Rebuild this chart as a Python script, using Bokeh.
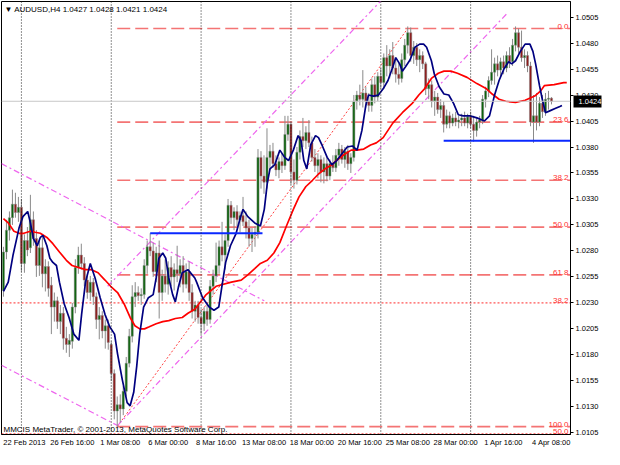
from bokeh.plotting import figure
from bokeh.models import (Range1d, FixedTicker, Label, Span, PrintfTickFormatter,
                          ColumnDataSource, LinearAxis)
from bokeh.embed import file_html
from bokeh.resources import INLINE
from bokeh.core.properties import value

# ---------------- data ----------------
title_text = "\u25bc AUDUSD,H4  1.0427  1.0428  1.0421  1.0424"
copyright_text = "MMCIS MetaTrader, \u00a9 2001-2013, MetaQuotes Software Corp."
last_price = 1.0424

opens = [
    1.0242, 1.0279, 1.0300, 1.0312, 1.0325, 1.0317, 1.0322, 1.0268, 1.0290, 1.0283,
    1.0310, 1.0292, 1.0266, 1.0283, 1.0258, 1.0265, 1.0247, 1.0226, 1.0232, 1.0212,
    1.0220, 1.0196, 1.0190, 1.0193, 1.0226, 1.0264, 1.0276, 1.0268, 1.0252, 1.0240,
    1.0250, 1.0236, 1.0214, 1.0218, 1.0203, 1.0208, 1.0190, 1.0162, 1.0126, 1.0132,
    1.0128, 1.0145, 1.0172, 1.0198, 1.0236, 1.0240, 1.0237, 1.0238, 1.0266, 1.0284,
    1.0280, 1.0260, 1.0278, 1.0240, 1.0256, 1.0248, 1.0264, 1.0255, 1.0262, 1.0258,
    1.0266, 1.0248, 1.0260, 1.0240, 1.0222, 1.0228, 1.0216, 1.0210, 1.0222, 1.0214,
    1.0246, 1.0256, 1.0266, 1.0284, 1.0276, 1.0290, 1.0324, 1.0312, 1.0318, 1.0310,
    1.0314, 1.0308, 1.0302, 1.0292, 1.0296, 1.0298, 1.0370, 1.0352, 1.0346, 1.0370,
    1.0376, 1.0364, 1.0358, 1.0366, 1.0362, 1.0392, 1.0402, 1.0356, 1.0348, 1.0375,
    1.0390, 1.0386, 1.0394, 1.0384, 1.0370, 1.0362, 1.0368, 1.0356, 1.0364, 1.0352,
    1.0364, 1.0360, 1.0372, 1.0378, 1.0368, 1.0376, 1.0364, 1.0370, 1.0424, 1.0430,
    1.0426, 1.0432, 1.0424, 1.0420, 1.0440, 1.0428, 1.0448, 1.0442, 1.0466, 1.0458,
    1.0468, 1.0456, 1.0450, 1.0446, 1.0464, 1.0478, 1.0490, 1.0468, 1.0476, 1.0464,
    1.0468, 1.0460, 1.0436, 1.0440, 1.0424, 1.0428, 1.0416, 1.0420, 1.0402, 1.0410,
    1.0403, 1.0408, 1.0404, 1.0406, 1.0408, 1.0403, 1.0409, 1.0402, 1.0396, 1.0404,
    1.0406, 1.0426, 1.0434, 1.0444, 1.0452, 1.0460, 1.0454, 1.0462, 1.0456, 1.0468,
    1.0462, 1.0478, 1.0490, 1.0476, 1.0466, 1.0468, 1.0458, 1.0404, 1.0410, 1.0404,
    1.0422, 1.0414, 1.0426, 1.0427]

highs = [
    1.0284, 1.0310, 1.0318, 1.0339, 1.0336, 1.0332, 1.0330, 1.0296, 1.0303, 1.0334,
    1.0318, 1.0300, 1.0290, 1.0296, 1.0272, 1.0270, 1.0255, 1.0240, 1.0236, 1.0228,
    1.0226, 1.0207, 1.0200, 1.0230, 1.0272, 1.0284, 1.0287, 1.0274, 1.0258, 1.0256,
    1.0254, 1.0240, 1.0226, 1.0222, 1.0214, 1.0214, 1.0193, 1.0166, 1.0140, 1.0142,
    1.0150, 1.0178, 1.0205, 1.0247, 1.0250, 1.0246, 1.0244, 1.0272, 1.0290, 1.0297,
    1.0288, 1.0284, 1.0290, 1.0262, 1.0272, 1.0270, 1.0275, 1.0268, 1.0285, 1.0272,
    1.0275, 1.0268, 1.0270, 1.0248, 1.0232, 1.0232, 1.0224, 1.0226, 1.0230, 1.0252,
    1.0262, 1.0288, 1.0290, 1.0308, 1.0296, 1.0330, 1.0328, 1.0322, 1.0324, 1.0318,
    1.0332, 1.0318, 1.0310, 1.0302, 1.0304, 1.0378, 1.0376, 1.0372, 1.0398, 1.0382,
    1.0384, 1.0372, 1.0370, 1.0374, 1.0410, 1.0410, 1.0404, 1.0368, 1.0380, 1.0396,
    1.0408, 1.0400, 1.0406, 1.0390, 1.0378, 1.0374, 1.0372, 1.0370, 1.0370, 1.0368,
    1.0372, 1.0378, 1.0384, 1.0382, 1.0380, 1.0382, 1.0374, 1.0430, 1.0434, 1.0440,
    1.0454, 1.0438, 1.0432, 1.0446, 1.0448, 1.0452, 1.0456, 1.0470, 1.0478, 1.0474,
    1.0481, 1.0466, 1.0462, 1.0470, 1.0484, 1.0496, 1.0495, 1.0482, 1.0480, 1.0474,
    1.0472, 1.0462, 1.0446, 1.0444, 1.0434, 1.0432, 1.0426, 1.0424, 1.0416, 1.0414,
    1.0412, 1.0414, 1.0410, 1.0412, 1.0414, 1.0412, 1.0414, 1.0410, 1.0408, 1.0410,
    1.0430, 1.0438, 1.0448, 1.0474, 1.0466, 1.0468, 1.0466, 1.0468, 1.0472, 1.0476,
    1.0484, 1.0496, 1.0494, 1.0492, 1.0474, 1.0472, 1.0462, 1.0430, 1.0432, 1.0428,
    1.0430, 1.0432, 1.0434, 1.0428]

lows = [
    1.0236, 1.0272, 1.0290, 1.0305, 1.0312, 1.0308, 1.0260, 1.0259, 1.0275, 1.0278,
    1.0285, 1.0255, 1.0256, 1.0245, 1.0241, 1.0236, 1.0200, 1.0212, 1.0205, 1.0200,
    1.0185, 1.0182, 1.0178, 1.0186, 1.0220, 1.0258, 1.0262, 1.0246, 1.0234, 1.0232,
    1.0228, 1.0205, 1.0195, 1.0196, 1.0186, 1.0185, 1.0155, 1.0118, 1.0110, 1.0115,
    1.0122, 1.0140, 1.0168, 1.0192, 1.0226, 1.0232, 1.0228, 1.0234, 1.0258, 1.0275,
    1.0255, 1.0250, 1.0215, 1.0232, 1.0240, 1.0238, 1.0246, 1.0242, 1.0250, 1.0245,
    1.0240, 1.0244, 1.0232, 1.0215, 1.0212, 1.0210, 1.0200, 1.0203, 1.0208, 1.0210,
    1.0238, 1.0250, 1.0258, 1.0270, 1.0262, 1.0284, 1.0306, 1.0300, 1.0304, 1.0298,
    1.0304, 1.0292, 1.0284, 1.0279, 1.0284, 1.0292, 1.0340, 1.0335, 1.0340, 1.0358,
    1.0360, 1.0352, 1.0350, 1.0355, 1.0358, 1.0386, 1.0344, 1.0340, 1.0344, 1.0368,
    1.0380, 1.0378, 1.0380, 1.0366, 1.0356, 1.0350, 1.0346, 1.0345, 1.0347, 1.0348,
    1.0356, 1.0356, 1.0362, 1.0364, 1.0360, 1.0358, 1.0355, 1.0366, 1.0416, 1.0420,
    1.0418, 1.0418, 1.0414, 1.0414, 1.0422, 1.0424, 1.0436, 1.0436, 1.0448, 1.0446,
    1.0450, 1.0442, 1.0440, 1.0442, 1.0458, 1.0470, 1.0462, 1.0460, 1.0458, 1.0452,
    1.0455, 1.0430, 1.0426, 1.0418, 1.0410, 1.0412, 1.0408, 1.0394, 1.0398, 1.0398,
    1.0400, 1.0400, 1.0398, 1.0400, 1.0400, 1.0398, 1.0398, 1.0385, 1.0390, 1.0398,
    1.0402, 1.0418, 1.0428, 1.0440, 1.0440, 1.0448, 1.0448, 1.0450, 1.0452, 1.0456,
    1.0458, 1.0472, 1.0470, 1.0462, 1.0456, 1.0452, 1.0400, 1.0384, 1.0396, 1.0400,
    1.0408, 1.0410, 1.0416, 1.0421]

closes = [
    1.0279, 1.0300, 1.0312, 1.0325, 1.0317, 1.0322, 1.0268, 1.0290, 1.0281, 1.0310,
    1.0292, 1.0266, 1.0283, 1.0258, 1.0265, 1.0244, 1.0226, 1.0232, 1.0212, 1.0220,
    1.0196, 1.0190, 1.0194, 1.0226, 1.0264, 1.0276, 1.0268, 1.0252, 1.0240, 1.0250,
    1.0236, 1.0214, 1.0218, 1.0203, 1.0208, 1.0192, 1.0162, 1.0126, 1.0132, 1.0128,
    1.0145, 1.0172, 1.0198, 1.0236, 1.0240, 1.0237, 1.0238, 1.0266, 1.0284, 1.0280,
    1.0260, 1.0278, 1.0240, 1.0256, 1.0248, 1.0264, 1.0255, 1.0262, 1.0258, 1.0266,
    1.0248, 1.0260, 1.0240, 1.0222, 1.0228, 1.0216, 1.0210, 1.0222, 1.0214, 1.0246,
    1.0256, 1.0266, 1.0284, 1.0276, 1.0290, 1.0324, 1.0312, 1.0318, 1.0310, 1.0314,
    1.0308, 1.0302, 1.0292, 1.0296, 1.0298, 1.0370, 1.0352, 1.0346, 1.0370, 1.0376,
    1.0364, 1.0358, 1.0366, 1.0362, 1.0392, 1.0402, 1.0356, 1.0348, 1.0375, 1.0390,
    1.0386, 1.0394, 1.0384, 1.0370, 1.0362, 1.0368, 1.0356, 1.0364, 1.0352, 1.0364,
    1.0360, 1.0372, 1.0378, 1.0368, 1.0376, 1.0364, 1.0370, 1.0424, 1.0430, 1.0426,
    1.0432, 1.0424, 1.0420, 1.0440, 1.0428, 1.0448, 1.0442, 1.0466, 1.0458, 1.0468,
    1.0456, 1.0450, 1.0446, 1.0464, 1.0478, 1.0490, 1.0468, 1.0476, 1.0464, 1.0468,
    1.0460, 1.0436, 1.0440, 1.0424, 1.0428, 1.0416, 1.0420, 1.0402, 1.0410, 1.0403,
    1.0408, 1.0404, 1.0406, 1.0408, 1.0403, 1.0409, 1.0402, 1.0396, 1.0404, 1.0406,
    1.0426, 1.0434, 1.0444, 1.0452, 1.0460, 1.0454, 1.0462, 1.0456, 1.0468, 1.0462,
    1.0478, 1.0490, 1.0476, 1.0466, 1.0468, 1.0458, 1.0404, 1.0410, 1.0404, 1.0422,
    1.0414, 1.0426, 1.0427, 1.0424]

# fast moving average (navy): bar position, price
fast_ma_pos = [0, 1.6, 3.2, 5.2, 6.5, 8.1, 9, 10, 11.3, 12.3, 13.2, 14.5, 15.5, 16.5, 17.7,
               18.7, 20.3, 21.9, 23.5, 25.2, 26.1, 27.4, 29, 30.6, 32.3, 33.9, 35.5, 37.1,
               38.1, 39.7, 41.3, 42.3, 43.5, 44.5, 45.5, 46.8, 48.4, 50, 51, 51.9, 53.2,
               54.2, 55.2, 56.5, 57.4, 58.4, 59.7, 61.6, 63.9, 64.5, 66.5, 68.7, 70.3,
               71.9, 72.9, 74.2, 75.8, 77.7, 79, 80, 81.6, 83.9, 85.8, 87.1, 88.1, 89,
               90.6, 92.3, 93.9, 95.2, 96.8, 98.4, 99.4, 100.3, 101.3, 102.6, 104.2,
               105.2, 106.5, 108.1, 109.7, 111.3, 112.9, 114.8, 116.5, 118.1, 119.7,
               121, 121.9, 123.5, 125.2, 126.8, 128.4, 130, 131, 132.3, 133.2, 134.2,
               135.8, 137.4, 139, 140.3, 141.3, 142.9, 143.9, 145.5, 147.1, 148.7,
               150.3, 151.9, 153.5, 155.8, 158.1, 160.6, 162.3, 163.9, 165.5, 167.1,
               168.7, 169.7, 171, 172.6, 174.2, 175.8, 176.8, 177.7, 179, 180, 181,
               182.6, 184.2, 185.8, 186.5]
fast_ma_val = [1.0241, 1.0250, 1.0276, 1.0302, 1.0313, 1.0318, 1.0307, 1.0292, 1.0285,
               1.0293, 1.0295, 1.0285, 1.0273, 1.0269, 1.0266, 1.0250, 1.0229, 1.0216,
               1.0200, 1.0194, 1.0219, 1.0250, 1.0268, 1.0254, 1.0235, 1.0219, 1.0207,
               1.0200, 1.0181, 1.0156, 1.0134, 1.0131, 1.0144, 1.0169, 1.0200, 1.0226,
               1.0235, 1.0238, 1.0254, 1.0273, 1.0278, 1.0273, 1.0254, 1.0238, 1.0231,
               1.0245, 1.0259, 1.0262, 1.0254, 1.0250, 1.0235, 1.0226, 1.0223, 1.0226,
               1.0245, 1.0269, 1.0285, 1.0297, 1.0311, 1.0320, 1.0313, 1.0307, 1.0304,
               1.0320, 1.0345, 1.0359, 1.0363, 1.0377, 1.0370, 1.0367, 1.0377, 1.0391,
               1.0386, 1.0367, 1.0359, 1.0382, 1.0391, 1.0389, 1.0381, 1.0370, 1.0363,
               1.0367, 1.0373, 1.0380, 1.0381, 1.0377, 1.0396, 1.0420, 1.0430, 1.0429,
               1.0430, 1.0436, 1.0444, 1.0457, 1.0466, 1.0460, 1.0453, 1.0457, 1.0464,
               1.0476, 1.0479, 1.0479, 1.0476, 1.0463, 1.0450, 1.0438, 1.0431, 1.0430,
               1.0422, 1.0411, 1.0410, 1.0410, 1.0408, 1.0405, 1.0410, 1.0429, 1.0444,
               1.0455, 1.0462, 1.0460, 1.0463, 1.0472, 1.0479, 1.0479, 1.0472, 1.0460,
               1.0439, 1.0425, 1.0413, 1.0415, 1.0417, 1.0419, 1.0420]

# slow moving average (red)
slow_ma_pos = [0, 1.6, 3.5, 5.2, 6.8, 9, 10.6, 12.3, 14.5, 16.5, 18.7, 21, 22.9, 25.2,
               27.4, 29.4, 31.6, 33.9, 35.8, 38.1, 40.3, 42.3, 43.9, 45.5, 47.1, 48.7,
               51, 53.2, 55.2, 57.4, 59.7, 61.6, 63.9, 67.7, 71, 76.1, 79.4, 81.6, 83.9,
               85.8, 88.1, 90.3, 92.3, 94.5, 96.8, 98.7, 101, 103.2, 105.2, 107.4, 109.7,
               111.6, 113.9, 116.1, 118.1, 120.3, 122.6, 124.5, 126.8, 130, 133.2, 136.5,
               138.7, 140.6, 142.9, 145.2, 147.1, 149.4, 151.6, 154.8, 158.1, 161.3,
               163.2, 165.5, 167.7, 171, 174.2, 177.4, 179.4, 180.6, 183.9, 187.1, 188.1]
slow_ma_val = [1.0311, 1.0307, 1.0299, 1.0297, 1.0297, 1.0299, 1.0298, 1.0297, 1.0293,
               1.0287, 1.0279, 1.0271, 1.0266, 1.0264, 1.0262, 1.0262, 1.0259, 1.0252,
               1.0246, 1.0240, 1.0229, 1.0216, 1.0208, 1.0205, 1.0205, 1.0207, 1.0210,
               1.0212, 1.0213, 1.0215, 1.0216, 1.0220, 1.0224, 1.0238, 1.0246, 1.0250,
               1.0252, 1.0257, 1.0263, 1.0268, 1.0271, 1.0278, 1.0288, 1.0304, 1.0320,
               1.0332, 1.0342, 1.0348, 1.0354, 1.0359, 1.0363, 1.0368, 1.0373, 1.0377,
               1.0377, 1.0378, 1.0382, 1.0384, 1.0389, 1.0403, 1.0413, 1.0422, 1.0430,
               1.0436, 1.0446, 1.0451, 1.0453, 1.0453, 1.0451, 1.0447, 1.0441, 1.0436,
               1.0431, 1.0426, 1.0424, 1.0423, 1.0425, 1.0429, 1.0434, 1.0439, 1.0440,
               1.0442, 1.0442]

# time axis
time_ticks = [0, 16, 32, 48, 64, 80, 96, 112, 128, 144, 160, 176]
time_labels = ["22 Feb 2013", "26 Feb 16:00", "1 Mar 08:00", "6 Mar 00:00", "8 Mar 16:00",
               "13 Mar 08:00", "18 Mar 00:00", "20 Mar 16:00", "25 Mar 08:00",
               "28 Mar 00:00", "1 Apr 16:00", "4 Apr 08:00"]
week_starts = [6, 36, 66, 96, 126, 156]

price_ticks = [1.0105, 1.0130, 1.0155, 1.0180, 1.0205, 1.0230, 1.0255, 1.0280, 1.0305,
               1.0330, 1.0355, 1.0380, 1.0405, 1.0430, 1.0455, 1.0480, 1.0505]

# Fibonacci retracement (from the 4 Mar low to the 25 Mar high)
fib_levels = ["0.0", "23.6", "38.2", "50.0", "61.8", "100.0"]
fib_prices = [1.0494, 1.0404, 1.0348, 1.0303, 1.0257, 1.0111]
fib_start_bar = 38
fib_end_bar = 135
# second (older) Fibonacci, only two levels visible
fib2_levels = ["38.2", "50.0"]
fib2_prices = [1.0230, 1.0104]

# channel lines (dash-dot violet): start bar, start price, end bar, end price
chan_x0 = [-0.65, -0.65, 34.8, 38.1]
chan_y0 = [1.0364, 1.0170, 1.0246, 1.0112]
chan_x1 = [87.1, 38.1, 126.5, 168.0]
chan_y1 = [1.0232, 1.0112, 1.0522, 1.0508]

# horizontal support/resistance lines (blue)
hline_x0 = [49, 147]
hline_x1 = [86.5, 195]
hline_y = [1.0297, 1.0386]

# ---------------- figure ----------------
X_LEFT, X_RIGHT = -0.65, 189.35
Y_BOTTOM, Y_TOP = 1.01034, 1.0520
FONT = "Liberation Sans"

p = figure(width=604, height=449, output_backend="svg", toolbar_location=None,
           x_range=Range1d(X_LEFT, X_RIGHT), y_range=Range1d(Y_BOTTOM, Y_TOP),
           y_axis_location="right", min_border_left=1, min_border_top=1,
           min_border_right=31, min_border_bottom=14,
           background_fill_color="white", border_fill_color="white")
p.xgrid.visible = False
p.ygrid.visible = False
p.outline_line_color = "black"
p.outline_line_width = 1

LABEL_SHIFT = 7
p.xaxis.ticker = FixedTicker(ticks=[t + LABEL_SHIFT for t in time_ticks])
p.xaxis.major_label_overrides = {t + LABEL_SHIFT: lab for t, lab in zip(time_ticks, time_labels)}
p.yaxis.ticker = FixedTicker(ticks=price_ticks)
p.yaxis.formatter = PrintfTickFormatter(format="%.4f")
for ax in (p.xaxis[0], p.yaxis[0]):
    ax.axis_line_color = "black"
    ax.major_tick_line_color = "black"
    ax.minor_tick_line_color = None
    ax.major_tick_in = 0
    ax.major_label_text_font = FONT
    ax.major_label_text_font_size = "7.5px"
    ax.major_label_text_color = "black"
p.yaxis.major_tick_out = 3
p.yaxis.major_label_standoff = 2
p.xaxis.major_tick_out = 0
p.xaxis.major_label_standoff = 3

# current-price marker on the price scale (black box with white text)
price_box_axis = LinearAxis(
    ticker=FixedTicker(ticks=[last_price]), formatter=PrintfTickFormatter(format="%.4f"),
    axis_line_color=None, minor_tick_line_color=None,
    major_tick_in=28, major_tick_out=0, major_tick_line_color="black",
    major_tick_line_width=12, major_label_standoff=-23,
    major_label_text_color="white", major_label_text_font=FONT,
    major_label_text_font_size="7.5px")
p.add_layout(price_box_axis, "right")

# week separators
for w in week_starts:
    p.add_layout(Span(location=w, dimension="height", line_color="#222222",
                      line_width=1, line_dash="1 2"))
# bid line
p.add_layout(Span(location=last_price, dimension="width", line_color="#c8c8c8", line_width=1))

# second fibonacci (dotted)
p.segment(x0=[X_LEFT] * len(fib2_prices), x1=[X_RIGHT + 5] * len(fib2_prices),
          y0=fib2_prices, y1=fib2_prices, line_color="#ff2a2a", line_width=1, line_dash="2 2")
p.text(x=[X_RIGHT] * len(fib2_prices), y=fib2_prices, text=fib2_levels, x_offset=-2,
       text_align="right", text_baseline="bottom", text_color="#ff3030",
       text_font=value(FONT), text_font_size="8px")

# main fibonacci
p.segment(x0=[fib_start_bar] * len(fib_prices), x1=[X_RIGHT + 5] * len(fib_prices),
          y0=fib_prices, y1=fib_prices, line_color="#f47474", line_width=1.7, line_dash="13 5")
p.segment(x0=[fib_start_bar], y0=[fib_prices[-1]], x1=[fib_end_bar], y1=[fib_prices[0]],
          line_color="#ff4040", line_width=1, line_dash="2 2")
p.text(x=[X_RIGHT] * len(fib_prices), y=fib_prices, text=fib_levels, x_offset=-2,
       text_align="right", text_baseline="bottom", text_color="#ff3030",
       text_font=value(FONT), text_font_size="8px")

# channel lines
p.segment(x0=chan_x0, y0=chan_y0, x1=chan_x1, y1=chan_y1, line_color="#ee66ee",
          line_width=1.2, line_dash="6 3 2 3")

# candles
bars = list(range(len(closes)))
src = ColumnDataSource(dict(
    x=bars, o=opens, h=highs, l=lows, c=closes,
    top=[max(o, c) for o, c in zip(opens, closes)],
    bottom=[min(o, c) for o, c in zip(opens, closes)],
    color=["#0b640b" if c >= o else "#8e1a1a" for o, c in zip(opens, closes)],
))
p.segment(x0="x", x1="x", y0="l", y1="h", source=src, line_color="#8a8a8a", line_width=1)
p.vbar(x="x", width=0.72, top="top", bottom="bottom", fill_color="color",
       line_color="#8a8a8a", line_width=0.5, source=src)

# moving averages
p.line(slow_ma_pos, slow_ma_val, line_color="#ff0000", line_width=1.7)
p.line(fast_ma_pos, fast_ma_val, line_color="#000080", line_width=1.7)

# blue horizontal lines
p.segment(x0=hline_x0, x1=hline_x1, y0=hline_y, y1=hline_y, line_color="#0a28ff", line_width=2)

# texts
p.add_layout(Label(x=X_LEFT, y=Y_TOP, x_offset=3, y_offset=-3, text=title_text,
                   text_baseline="top", text_align="left", text_color="black",
                   text_font=FONT, text_font_size="8px"))
p.add_layout(Label(x=X_LEFT, y=Y_BOTTOM, x_offset=2, y_offset=1, text=copyright_text,
                   text_baseline="bottom", text_align="left", text_color="black",
                   text_font=FONT, text_font_size="8px"))

open("out.html", "w").write(file_html(p, INLINE))
